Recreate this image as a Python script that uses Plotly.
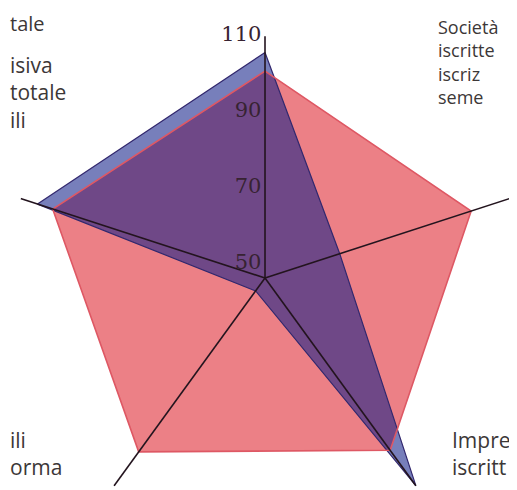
import plotly.graph_objects as go

# categories clockwise from the top spoke
assi = ["Totale", "Società iscritte", "Imprese iscritte", "Imprese di forma", "Incidenza esclusiva"]

base = [100.3, 102.9, 101.9, 102.4, 104.6]     # pink polygon
valori = [105.2, 66.5, 113.4, 50.0, 108.8]     # blue polygon

r_min, r_max = 45.8, 113.5
spoke_end = [109.5, 113.5, 113.5, 113.5, 113.5]
ticks = [50, 70, 90, 110]

W, H = 530, 560   # the picture is a crop of a larger page
OFF = 8           # page body margin


def px(x, y):
    # window pixel -> paper fraction
    return (x - OFF) / W, 1 - (y - OFF) / H


fig = go.Figure()

# pink base area
fig.add_trace(go.Scatterpolar(
    r=base + base[:1], theta=assi + assi[:1],
    fill="toself", fillcolor="rgb(236,128,134)",
    line=dict(color="rgb(236,128,134)", width=0),
    mode="lines", hoverinfo="skip"))

# blue area, semi transparent over the pink
fig.add_trace(go.Scatterpolar(
    r=valori + valori[:1], theta=assi + assi[:1],
    fill="toself", fillcolor="rgba(15,30,135,0.57)",
    line=dict(color="rgb(50,40,110)", width=1.2),
    mode="lines", hoverinfo="skip"))

# pink outline visible through the blue
fig.add_trace(go.Scatterpolar(
    r=base + base[:1], theta=assi + assi[:1],
    line=dict(color="rgb(222,88,100)", width=1.6),
    mode="lines", hoverinfo="skip"))

# spokes drawn over the areas
for a, e in zip(assi, spoke_end):
    fig.add_trace(go.Scatterpolar(
        r=[r_min, e], theta=[a, a], mode="lines",
        line=dict(color="rgb(35,20,30)", width=1.6),
        hoverinfo="skip"))

R = 257
cy = 278 - OFF
fig.update_layout(
    width=W, height=H,
    margin=dict(l=0, r=0, t=0, b=0),
    paper_bgcolor="white",
    showlegend=False,
    polar=dict(
        domain=dict(x=[0, 2 * R / W], y=[1 - (cy + R) / H, 1 - (cy - R) / H]),
        bgcolor="rgba(0,0,0,0)",
        radialaxis=dict(
            range=[r_min, r_max], angle=90, side="counterclockwise", tickangle=90,
            tickvals=ticks, ticks="", showline=False, showgrid=False, ticksuffix=" ",
            tickfont=dict(family="DejaVu Serif", size=21, color="rgb(55,35,50)"),
        ),
        angularaxis=dict(
            rotation=90, direction="clockwise",
            showticklabels=False, ticks="", showline=False, showgrid=False,
        ),
    ),
)

# label fragments left visible by the crop
testi = [
    ("tale", 8, 23, 20),
    ("isiva<br>totale<br>ili", 8, 92, 21),
    ("ili<br>orma", 8, 454, 21),
    ("Società<br>iscritte<br>iscriz<br>seme", 436, 62, 18),
    ("Impre<br>iscritt", 450, 454, 21),
]
for t, x, y, s in testi:
    ax, ay = px(x, y)
    fig.add_annotation(text=t, x=ax, y=ay, xref="paper", yref="paper",
                       xanchor="left", yanchor="middle", align="left", showarrow=False,
                       font=dict(family="Open Sans", size=s, color="rgb(60,55,55)"))

fig.write_html("out.html")
